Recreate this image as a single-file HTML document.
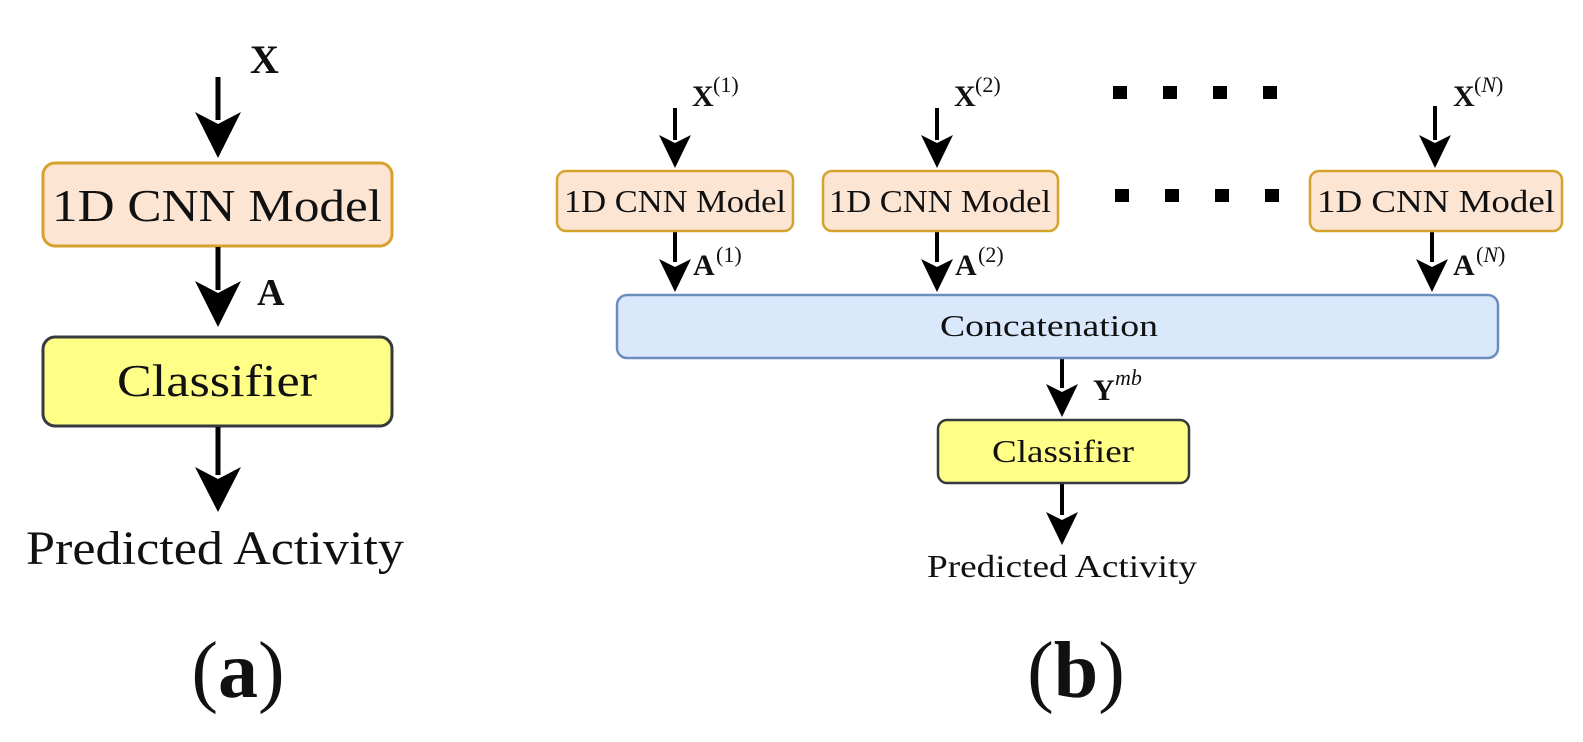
<!DOCTYPE html>
<html><head><meta charset="utf-8"><style>
html,body{margin:0;padding:0;background:#fff;}
svg{display:block;}
text{font-family:"Liberation Serif",serif;fill:#111;}
</style></head><body>
<svg width="1583" height="742" viewBox="0 0 1583 742" xmlns="http://www.w3.org/2000/svg">
<!-- (a) -->
<text x="250" y="73" font-size="40" font-weight="bold">X</text>
<line x1="218" y1="77" x2="218" y2="120" stroke="#000" stroke-width="5"/>
<polygon points="195,112 218,124 241,112 218,158" fill="#000"/>
<rect x="43" y="163" width="349" height="83" rx="12" fill="#fde5d4" stroke="#d5a22e" stroke-width="3"/>
<text x="217" y="221" font-size="46" text-anchor="middle" textLength="330" lengthAdjust="spacingAndGlyphs">1D CNN Model</text>
<line x1="218" y1="247" x2="218" y2="290" stroke="#000" stroke-width="5"/>
<polygon points="195,281 218,293 241,281 218,327" fill="#000"/>
<text x="257" y="305" font-size="38" font-weight="bold">A</text>
<rect x="43" y="337" width="349" height="89" rx="12" fill="#ffff88" stroke="#36393d" stroke-width="3"/>
<text x="217" y="396" font-size="46" text-anchor="middle" textLength="200" lengthAdjust="spacingAndGlyphs">Classifier</text>
<line x1="218" y1="427" x2="218" y2="475" stroke="#000" stroke-width="5"/>
<polygon points="195,467 218,479 241,467 218,512" fill="#000"/>
<text x="215" y="564" font-size="48" text-anchor="middle" textLength="378" lengthAdjust="spacingAndGlyphs">Predicted Activity</text>
<text x="238" y="697" font-size="80" text-anchor="middle"><tspan>(</tspan><tspan font-weight="bold">a</tspan><tspan>)</tspan></text>

<!-- (b) -->
<g font-size="30">
<text x="692" y="106" font-weight="bold">X</text><text x="713" y="92" font-size="22">(1)</text>
<text x="954" y="106" font-weight="bold">X</text><text x="975" y="92" font-size="22">(2)</text>
<text x="1453" y="106" font-weight="bold">X</text><text x="1474" y="92" font-size="22" >(<tspan font-style="italic">N</tspan>)</text>
<text x="693" y="275" font-weight="bold">A</text><text x="716" y="262" font-size="22">(1)</text>
<text x="955" y="275" font-weight="bold">A</text><text x="978" y="262" font-size="22">(2)</text>
<text x="1453" y="275" font-weight="bold">A</text><text x="1476" y="262" font-size="22">(<tspan font-style="italic">N</tspan>)</text>
<text x="1093" y="400" font-weight="bold">Y</text><text x="1115" y="385" font-size="22" font-style="italic">mb</text>
</g>
<g stroke="#000" stroke-width="4">
<line x1="675" y1="108" x2="675" y2="140"/><line x1="937" y1="108" x2="937" y2="140"/><line x1="1435" y1="106" x2="1435" y2="140"/>
<line x1="675" y1="232" x2="675" y2="262"/><line x1="937" y1="232" x2="937" y2="262"/><line x1="1432" y1="232" x2="1432" y2="262"/>
<line x1="1062" y1="358" x2="1062" y2="388"/><line x1="1062" y1="483" x2="1062" y2="515"/>
</g>
<g fill="#000">
<polygon points="659,135 675,143 691,135 675,168"/>
<polygon points="921,135 937,143 953,135 937,168"/>
<polygon points="1419,135 1435,143 1451,135 1435,168"/>
<polygon points="659,259 675,267 691,259 675,292"/>
<polygon points="921,259 937,267 953,259 937,292"/>
<polygon points="1416,259 1432,267 1448,259 1432,292"/>
<polygon points="1046,384 1062,392 1078,384 1062,417"/>
<polygon points="1046,512 1062,520 1078,512 1062,545"/>
<rect x="1113" y="86" width="14" height="13"/><rect x="1163" y="86" width="14" height="13"/><rect x="1213" y="86" width="14" height="13"/><rect x="1263" y="86" width="14" height="13"/>
<rect x="1115" y="189" width="14" height="13"/><rect x="1165" y="189" width="14" height="13"/><rect x="1215" y="189" width="14" height="13"/><rect x="1265" y="189" width="14" height="13"/>
</g>
<rect x="557" y="171" width="236" height="60" rx="9" fill="#fde5d4" stroke="#d5a22e" stroke-width="2.5"/>
<rect x="823" y="171" width="235" height="60" rx="9" fill="#fde5d4" stroke="#d5a22e" stroke-width="2.5"/>
<rect x="1310" y="171" width="252" height="60" rx="9" fill="#fde5d4" stroke="#d5a22e" stroke-width="2.5"/>
<g font-size="32" text-anchor="middle">
<text x="675" y="212" textLength="222" lengthAdjust="spacingAndGlyphs">1D CNN Model</text>
<text x="940" y="212" textLength="222" lengthAdjust="spacingAndGlyphs">1D CNN Model</text>
<text x="1436" y="212" textLength="238" lengthAdjust="spacingAndGlyphs">1D CNN Model</text>
</g>
<rect x="617" y="295" width="881" height="63" rx="10" fill="#dae8fc" stroke="#6c8ebf" stroke-width="2.5"/>
<text x="1049" y="336" font-size="31" text-anchor="middle" textLength="218" lengthAdjust="spacingAndGlyphs">Concatenation</text>
<rect x="938" y="420" width="251" height="63" rx="9" fill="#ffff88" stroke="#36393d" stroke-width="2.5"/>
<text x="1063" y="462" font-size="32" text-anchor="middle" textLength="142" lengthAdjust="spacingAndGlyphs">Classifier</text>
<text x="1062" y="577" font-size="32" text-anchor="middle" textLength="270" lengthAdjust="spacingAndGlyphs">Predicted Activity</text>
<text x="1076" y="697" font-size="80" text-anchor="middle"><tspan>(</tspan><tspan font-weight="bold">b</tspan><tspan>)</tspan></text>
</svg>
</body></html>
